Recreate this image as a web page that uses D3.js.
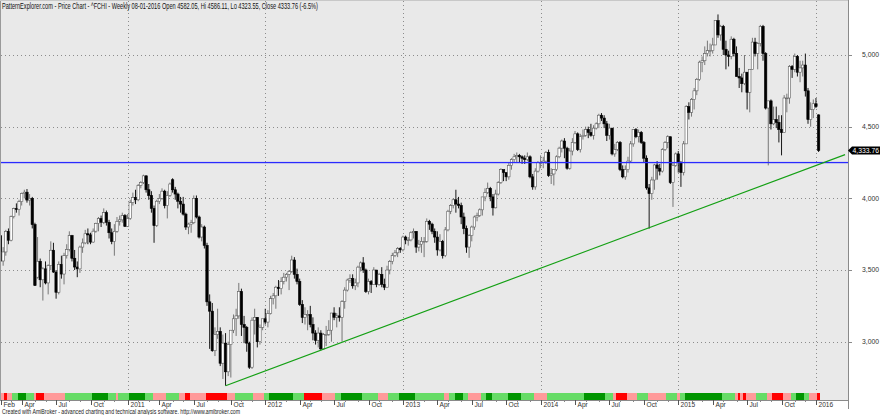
<!DOCTYPE html>
<html><head><meta charset="utf-8">
<script src="https://cdn.jsdelivr.net/npm/d3@7"></script>
<style>body{margin:0;background:#fff}svg{display:block}text{font-family:"Liberation Sans",Arial,sans-serif}</style>
</head><body><svg id="c" width="880" height="415"></svg>
<script>
const titleText = "PatternExplorer.com - Price Chart - ^FCHI - Weekly 08-01-2016 Open 4582.05, Hi 4586.11, Lo 4323.55, Close 4333.76 (-6.5%)";
const footerText = "Created with AmiBroker - advanced charting and technical analysis software. http://www.amibroker.com";
const priceTicks = [3000, 3500, 4000, 4500, 5000];
const lastClose = 4333.76;
const supportLevel = 4250;
const trendPrices = [2693, 4305];      // trend line: from the Sep-2011 low, extended 10 weeks past the last bar
const trendWeekIdx = [85, 319];

// weekly bars [open, high, low, close]
const bars2010 = [[3739,3755,3540,3563],[3563,3660,3530,3626],[3626,3780,3600,3769],[3769,3790,3680,3708],[3708,3880,3700,3872],[3872,3935,3860,3928],[3928,3965,3900,3924],[3924,3990,3880,3977],[3977,4040,3950,4034],[4034,4060,4000,4043],[4043,4065,3970,3988],[3988,4030,3950,4000],[4000,4010,3790,3817],[3817,3830,3390,3392],[3450,3730,3440,3561],[3561,3580,3380,3432],[3432,3520,3287,3508],[3508,3560,3400,3410],[3410,3540,3330,3531],[3531,3700,3500,3638],[3638,3690,3480,3486],[3486,3500,3300,3345],[3345,3560,3330,3540],[3540,3600,3440,3472],[3472,3620,3400,3600],[3600,3680,3580,3643],[3643,3770,3630,3740],[3740,3745,3560,3582],[3582,3640,3500,3521],[3521,3560,3450,3508],[3508,3670,3480,3660],[3660,3720,3620,3689],[3689,3780,3680,3753],[3753,3790,3680,3745],[3745,3760,3680,3695],[3695,3790,3690,3771],[3771,3830,3760,3825],[3825,3870,3770,3859],[3859,3880,3800,3833],[3833,3930,3820,3900],[3900,3915,3810,3833],[3833,3850,3720,3760],[3760,3790,3680,3700],[3700,3820,3600,3770],[3770,3870,3760,3840],[3840,3880,3810,3850],[3850,3900,3830,3880],[3880,3890,3800,3805]];
const bars2011 = [[3805,3890,3800,3860],[3860,3990,3850,3970],[3970,4040,3950,4005],[4005,4060,3960,3990],[3990,4100,3980,4090],[4090,4120,4070,4110],[4110,4165,4100,4157],[4157,4160,4040,4060],[4060,4100,3990,4020],[4020,4050,3900,3930],[3930,3950,3690,3810],[3810,3990,3800,3980],[3980,4030,3960,4000],[4000,4070,3990,4050],[4050,4060,3930,3950],[3950,4050,3860,4020],[4020,4110,4010,4100],[4130,4140,4040,4060],[4060,4080,3990,4030],[4030,4040,3930,3980],[3980,4010,3900,3960],[3960,4010,3880,3890],[3890,3900,3780,3800],[3800,3830,3750,3820],[3820,3850,3760,3830],[3830,4020,3820,4000],[4000,4020,3860,3870],[3870,3880,3720,3730],[3730,3820,3700,3800],[3800,3810,3650,3672],[3672,3690,3250,3278],[3278,3330,2950,3213],[3213,3270,2930,2937],[2937,3100,2900,3050],[3050,3230,3020,3072],[3072,3100,2830,2850],[2850,3050,2740,2990],[2990,3060,2693,2790],[2790,3000,2760,2980],[2980,3050,2750,3080],[3080,3190,3060,3160],[3160,3230,3040,3180],[3180,3410,3160,3350],[3350,3370,3040,3120],[3120,3180,2990,3100],[3100,3110,2930,2990],[2990,3000,2810,2822],[2822,3170,2810,3150],[3150,3230,3050,3170],[3170,3170,2960,3000],[3000,3120,2980,3100],[3100,3130,3080,3160]];
const bars2012 = [[3160,3230,3120,3137],[3137,3220,3100,3196],[3196,3320,3190,3300],[3300,3340,3260,3320],[3320,3390,3230,3380],[3380,3430,3320,3370],[3370,3450,3330,3420],[3420,3480,3400,3450],[3450,3480,3420,3470],[3470,3500,3360,3490],[3490,3600,3480,3570],[3570,3590,3440,3470],[3470,3510,3400,3420],[3420,3440,3250,3260],[3260,3290,3130,3170],[3170,3240,3120,3190],[3190,3220,3080,3190],[3190,3250,3100,3120],[3120,3170,3010,3060],[3060,3080,2980,3010],[3010,3100,2960,3060],[3060,3080,2940,2950],[2950,3060,2945,3050],[3050,3110,2970,3050],[3050,3150,3040,3080],[3080,3200,3000,3200],[3200,3240,3150,3170],[3170,3200,3100,3180],[3180,3240,3140,3170],[3170,3290,3000,3280],[3280,3380,3230,3360],[3360,3440,3350,3430],[3430,3470,3410,3440],[3440,3470,3370,3390],[3390,3440,3360,3410],[3410,3530,3380,3520],[3520,3560,3490,3550],[3550,3590,3480,3500],[3500,3510,3340,3350],[3350,3440,3330,3420],[3420,3430,3340,3400],[3400,3520,3400,3500],[3500,3500,3380,3400],[3400,3480,3390,3470],[3470,3520,3380,3400],[3400,3440,3360,3380],[3380,3530,3380,3500],[3500,3570,3470,3560],[3560,3620,3540,3600],[3600,3640,3590,3620],[3620,3660,3590,3650],[3650,3660,3620,3641]];
const bars2013 = [[3641,3740,3630,3730],[3730,3740,3680,3710],[3710,3730,3670,3710],[3710,3770,3700,3760],[3760,3790,3720,3770],[3770,3770,3620,3660],[3660,3710,3630,3680],[3680,3730,3620,3700],[3700,3730,3590,3700],[3700,3860,3690,3840],[3840,3850,3780,3820],[3820,3830,3750,3770],[3770,3790,3690,3730],[3730,3770,3600,3640],[3640,3750,3630,3700],[3700,3710,3580,3600],[3600,3800,3590,3780],[3780,3920,3770,3910],[3910,3960,3890,3950],[3950,4000,3930,3990],[3990,4060,3900,3960],[3960,4010,3930,3950],[3950,3970,3820,3870],[3870,3900,3750,3790],[3790,3810,3620,3660],[3660,3750,3585,3740],[3740,3810,3700,3800],[3800,3880,3780,3870],[3870,3900,3840,3880],[3880,3930,3870,3920],[3920,4010,3880,4010],[4010,4070,3980,4040],[4040,4110,4030,4070],[4070,4080,3980,4010],[4010,4030,3880,3934],[3934,4060,3930,4030],[4030,4120,4020,4110],[4110,4210,4100,4200],[4200,4200,4120,4180],[4180,4180,4120,4150],[4150,4250,4130,4230],[4230,4280,4200,4270],[4270,4310,4250,4290],[4290,4320,4250,4300],[4300,4310,4250,4290],[4290,4300,4240,4280],[4280,4300,4240,4270],[4270,4320,4260,4290],[4290,4300,4140,4150],[4150,4170,4060,4080],[4080,4210,4060,4190],[4190,4260,4180,4250]];
const bars2014 = [[4250,4300,4210,4250],[4250,4290,4210,4260],[4260,4330,4240,4320],[4320,4340,4150,4160],[4160,4210,4100,4170],[4170,4200,4090,4200],[4200,4300,4190,4290],[4290,4360,4280,4350],[4350,4410,4320,4400],[4400,4420,4280,4350],[4350,4360,4200,4210],[4210,4350,4200,4330],[4330,4420,4300,4390],[4390,4470,4380,4450],[4450,4460,4330,4340],[4340,4450,4320,4430],[4430,4480,4410,4440],[4440,4500,4430,4480],[4480,4500,4420,4460],[4460,4520,4430,4440],[4440,4510,4410,4490],[4490,4530,4480,4520],[4520,4590,4490,4580],[4580,4595,4540,4560],[4560,4580,4490,4520],[4520,4540,4400,4440],[4440,4520,4410,4490],[4490,4490,4300,4310],[4310,4380,4290,4340],[4340,4400,4330,4390],[4390,4400,4190,4200],[4200,4230,4140,4150],[4150,4230,4130,4200],[4200,4290,4180,4260],[4260,4400,4250,4380],[4380,4480,4360,4480],[4480,4490,4420,4430],[4430,4480,4390,4460],[4460,4470,4380,4390],[4390,4400,4250,4280],[4280,4300,4060,4073],[4073,4100,3789,4033],[4033,4150,3990,4128],[4128,4240,4060,4233],[4233,4260,4130,4210],[4210,4240,4160,4190],[4190,4350,4180,4340],[4340,4400,4330,4390],[4390,4440,4350,4430],[4430,4430,4100,4110],[4110,4250,3940,4230],[4230,4320,4220,4310]];
const bars2015 = [[4310,4330,4180,4250],[4250,4260,4080,4180],[4180,4400,4160,4380],[4380,4650,4380,4640],[4640,4670,4550,4600],[4600,4700,4570,4690],[4690,4770,4620,4750],[4750,4840,4720,4830],[4830,4960,4820,4950],[4950,4990,4880,4960],[4960,5060,4930,5010],[5010,5100,4990,5030],[5030,5080,4990,5030],[5030,5120,5010,5070],[5070,5240,5070,5240],[5240,5283,5120,5140],[5140,5210,5100,5200],[5200,5210,5000,5040],[5040,5100,4900,5000],[5000,5030,4920,4990],[4990,5130,4970,5110],[5110,5120,4990,5010],[5010,5060,4850,4850],[4850,4910,4770,4840],[4840,4870,4740,4800],[4800,5000,4790,4880],[4880,4880,4620,4740],[4740,4900,4600,4900],[4900,5120,4900,5090],[5090,5120,4990,5010],[5010,5090,4900,5080],[5080,5210,5060,5200],[5200,5210,4960,5010],[5010,5020,4620,4630],[4630,4680,4230,4680],[4680,4690,4480,4520],[4520,4640,4510,4550],[4550,4640,4490,4530],[4530,4580,4390,4480],[4480,4580,4300,4460],[4460,4720,4460,4700],[4700,4730,4600,4700],[4700,4930,4660,4920],[4920,4930,4840,4900],[4900,5010,4880,4990],[4990,5000,4850,4880],[4880,4960,4810,4910],[4910,4960,4850,4930],[4930,5010,4710,4750],[4750,4770,4520,4550],[4550,4670,4500,4620],[4620,4690,4560,4660],[4660,4700,4630,4640],[4582.05,4586.11,4323.55,4333.76]];

// trend-state ribbon under the chart: [state, number of weeks]  G=strong up, g=up, p=down, r=strong down
const ribbonRuns = [["p",2],["r",1],["p",2],["g",2],["G",3],["g",3],["p",1],["r",3],["p",8],["g",10],["G",6],["g",3],["p",1],["g",4],["G",6],["g",3],["p",5],["g",5],["p",2],["r",2],["p",6],["r",8],["p",3],["g",7],["p",4],["g",2],["G",9],["g",4],["r",7],["p",5],["g",2],["G",8],["g",6],["p",4],["g",4],["G",6],["g",11],["p",2],["g",2],["G",3],["g",2],["p",5],["g",2],["G",2],["g",6],["G",5],["g",5],["p",5],["g",14],["G",8],["g",3],["p",1],["r",4],["p",4],["g",4],["p",7],["g",4],["p",1],["g",2],["G",14],["g",5],["p",1],["r",1],["p",1],["r",1],["p",4],["g",4],["p",2],["r",4],["p",3],["g",2],["G",3],["g",2],["p",3],["r",1]];
const ribbonColors = {G:"#009400", g:"#66dc66", p:"#ff9a9a", r:"#ff0000"};

const bars = [].concat(bars2010, bars2011, bars2012, bars2013, bars2014, bars2015);
const weeks = d3.timeFriday.range(new Date(2010,1,5), new Date(2016,0,9));
const data = weeks.map((d,i)=>({date:d, o:bars[i][0], h:bars[i][1], l:bars[i][2], c:bars[i][3]}));
const ribbon = [];
ribbonRuns.forEach(([s,n])=>{for(let k=0;k<n;k++) ribbon.push(s);});

const svg = d3.select("#c");
const PR = 848, PB = 400, stripTop = 393;
const x = d3.scaleTime().domain([weeks[0], weeks[weeks.length-1]]).range([0.5, 818.6]);
const y = d3.scaleLinear().domain([3000, 5000]).range([341.7, 55]);
const step = x(weeks[1]) - x(weeks[0]);

svg.append("rect").attr("width",880).attr("height",415).attr("fill","#fff");
svg.append("rect").attr("x",0).attr("y",0).attr("width",PR).attr("height",PB).attr("fill","#e9e9e9");
svg.append("defs").append("clipPath").attr("id","pc").append("rect").attr("x",0).attr("y",0).attr("width",PR).attr("height",PB);

// month ticks
const monthStarts = [];
data.forEach((d,i)=>{ const m=d.date.getMonth(); if(i===0 || m!==data[i-1].date.getMonth()) monthStarts.push({date:d.date, m, i}); });
const fmtMon = d3.timeFormat("%b"), fmtYear = d3.timeFormat("%Y");
const majors = monthStarts.filter(t=>t.i===0 || t.m%3===0);
const minors = monthStarts.filter(t=>!(t.i===0 || t.m%3===0));
const yearTicks = monthStarts.filter(t=>t.m===0);

// grid
const grid = svg.append("g").attr("stroke","#8c8c8c").attr("stroke-dasharray","1,3").attr("stroke-width",1);
priceTicks.forEach(p=>{ const yy=Math.round(y(p))+0.5; grid.append("line").attr("x1",1).attr("x2",PR).attr("y1",yy).attr("y2",yy); });
yearTicks.forEach(t=>{ const xx=Math.round(x(t.date))+0.5; grid.append("line").attr("x1",xx).attr("x2",xx).attr("y1",1).attr("y2",stripTop); });

// candles
const cg = svg.append("g").attr("clip-path","url(#pc)");
const bw = 2.4;
cg.selectAll("line.w").data(data).join("line")
  .attr("x1",d=>x(d.date)).attr("x2",d=>x(d.date))
  .attr("y1",d=>y(d.h)).attr("y2",d=>y(d.l))
  .attr("stroke",d=>d.c>=d.o?"#6a6a6a":"#000").attr("stroke-width",0.9);
cg.selectAll("rect.b").data(data).join("rect")
  .attr("x",d=>x(d.date)-bw/2).attr("width",bw)
  .attr("y",d=>y(Math.max(d.o,d.c)))
  .attr("height",d=>Math.max(0.8, Math.abs(y(d.o)-y(d.c))))
  .attr("fill",d=>d.c>=d.o?"#fff":"#000")
  .attr("stroke",d=>d.c>=d.o?"#5a5a5a":"#000").attr("stroke-width",0.6);

// support line and trend line
const sy = y(supportLevel);
svg.append("rect").attr("x",0).attr("width",PR).attr("y",sy-0.6).attr("height",1.3).attr("fill","#2a2aff");
const tDates = trendWeekIdx.map(k=>d3.timeWeek.offset(weeks[0], k));
svg.append("line").attr("x1",x(tDates[0])).attr("y1",y(trendPrices[0])).attr("x2",x(tDates[1])).attr("y2",y(trendPrices[1]))
  .attr("stroke","#14a014").attr("stroke-width",1.1);

// ribbon
svg.append("g").attr("clip-path","url(#pc)").selectAll("rect").data(data).join("rect")
  .attr("x",d=>x(d.date)-step/2).attr("width",step+0.3)
  .attr("y",stripTop).attr("height",7)
  .attr("fill",(d,i)=>ribbonColors[ribbon[i]]).attr("shape-rendering","crispEdges");

// frame and axes
svg.append("line").attr("x1",0.5).attr("x2",0.5).attr("y1",0).attr("y2",PB).attr("stroke","#9a9a9a");
svg.append("line").attr("x1",0).attr("x2",PR).attr("y1",0.5).attr("y2",0.5).attr("stroke","#c8c8c8");
svg.append("line").attr("x1",PR+0.5).attr("x2",PR+0.5).attr("y1",0).attr("y2",409).attr("stroke","#8a8a8a");
svg.append("line").attr("x1",0).attr("x2",PR).attr("y1",PB+0.5).attr("y2",PB+0.5).attr("stroke","#8a8a8a");

// y axis labels
const ya = svg.append("g");
priceTicks.forEach(p=>{
  const yy=Math.round(y(p))+0.5;
  ya.append("line").attr("x1",PR).attr("x2",PR+4).attr("y1",yy).attr("y2",yy).attr("stroke","#8a8a8a");
  ya.append("text").attr("x",862).attr("y",y(p)).attr("dy","0.35em").attr("font-size",6.8).attr("fill","#333").text(d3.format(",")(p));
});

// x axis ticks and labels
const xa = svg.append("g");
majors.forEach(t=>{
  const xx=Math.round(x(t.date))+0.5;
  xa.append("line").attr("x1",xx).attr("x2",xx).attr("y1",PB).attr("y2",PB+5).attr("stroke","#555");
  xa.append("text").attr("x",xx+2).attr("y",406.5).attr("font-size",6.6).attr("fill","#333")
    .text(t.m===0 ? fmtYear(t.date) : fmtMon(t.date));
});
minors.forEach(t=>{
  const xx=Math.round(x(t.date))+0.5;
  xa.append("line").attr("x1",xx).attr("x2",xx).attr("y1",PB).attr("y2",PB+2).attr("stroke","#888");
});

// last price tag
const ly = y(lastClose);
svg.append("path").attr("d",`M${PR},${ly} L${PR+4},${ly-3.9} L880,${ly-3.9} L880,${ly+3.9} L${PR+4},${ly+3.9} Z`).attr("fill","#000");
svg.append("text").attr("x",PR+4.5).attr("y",ly).attr("dy","0.36em").attr("font-size",6.8).attr("fill","#fff").text(d3.format(",.2f")(lastClose));

// title and footer
svg.append("text").attr("x",2).attr("y",8.6).attr("font-size",8.2).attr("fill","#111")
  .attr("textLength",316).attr("lengthAdjust","spacingAndGlyphs").text(titleText);
svg.append("text").attr("x",2).attr("y",413.5).attr("font-size",6.6).attr("fill","#222")
  .attr("textLength",238).attr("lengthAdjust","spacingAndGlyphs").text(footerText);
</script>
</body></html>
